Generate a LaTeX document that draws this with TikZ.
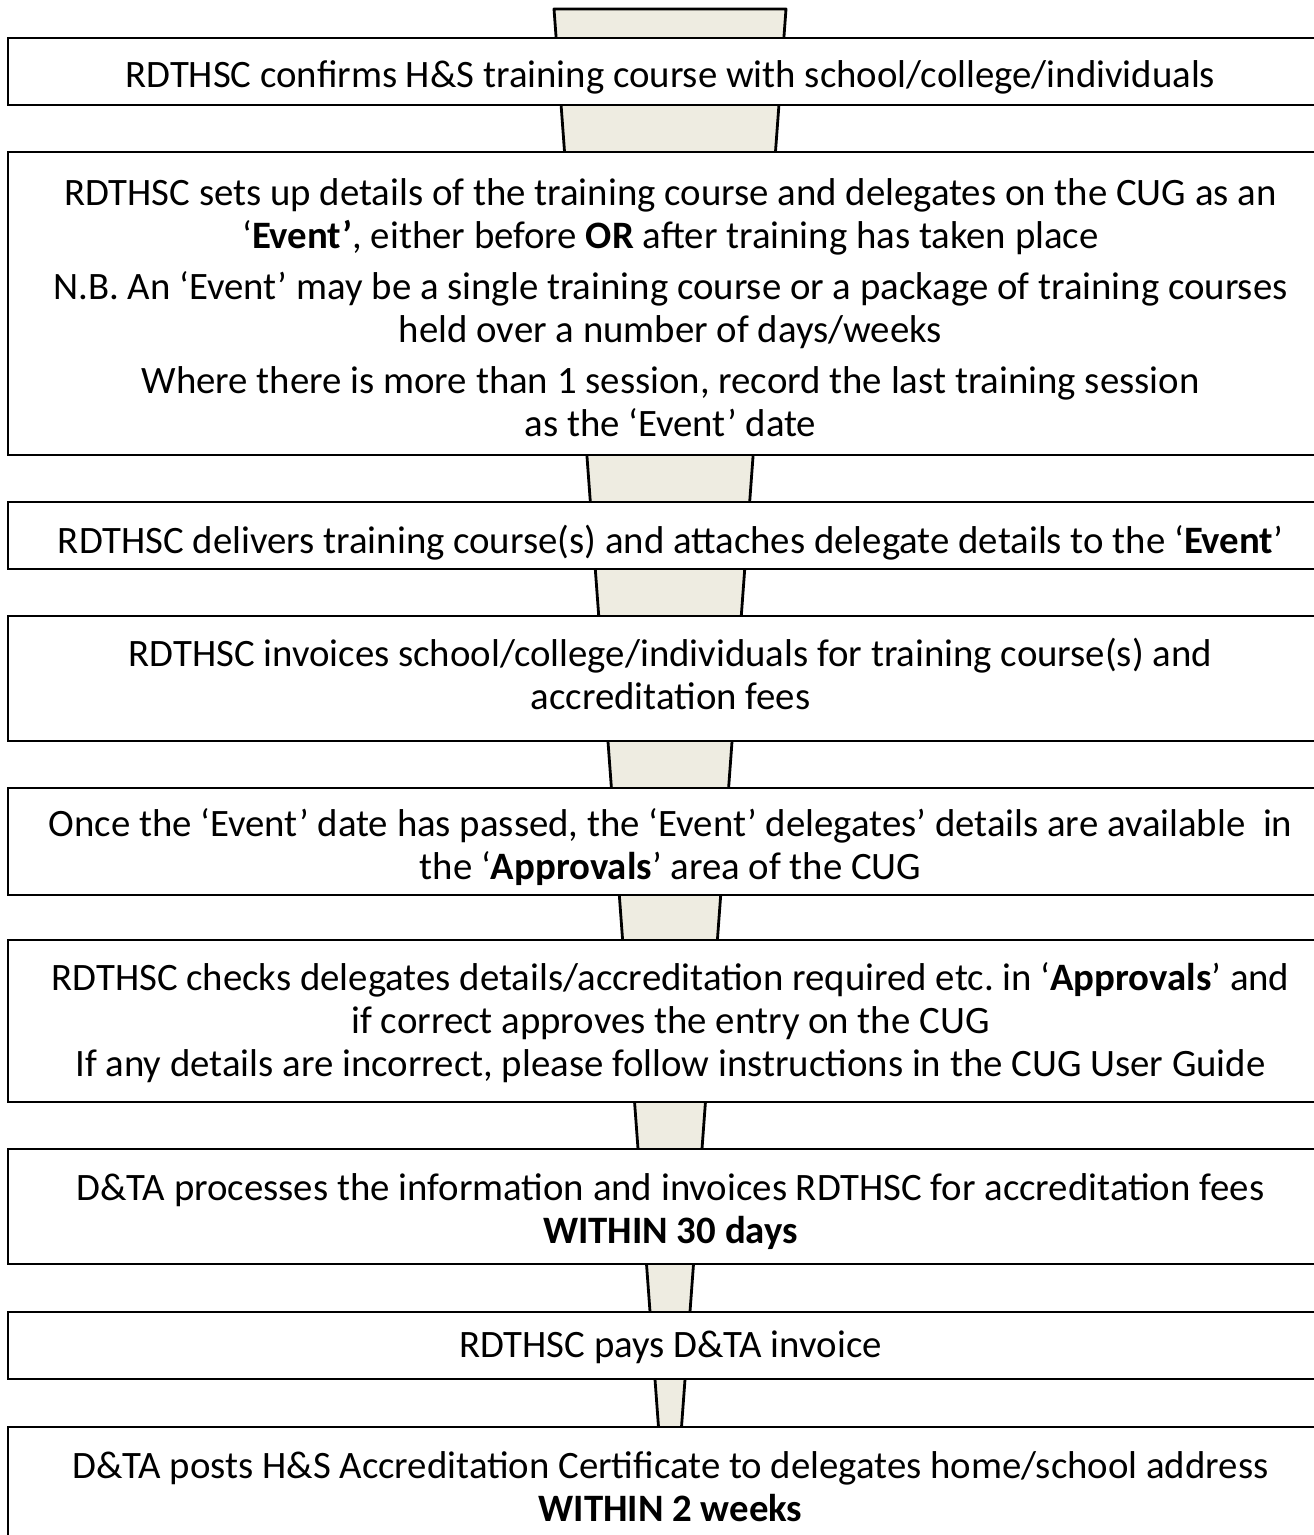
\documentclass[tikz,border=0pt]{standalone}
\usepackage{fontspec}
\setmainfont{Carlito}
\definecolor{funnelfill}{HTML}{EEECE1}
\frenchspacing
\begin{document}
\begin{tikzpicture}[x=0.5pt,y=-0.5pt,
  stepbox/.style={draw, line width=1.4pt, fill=white, minimum width=662.5pt, inner sep=0pt},
  steptext/.style={align=center, inner sep=0pt, font=\fontsize{19.4pt}{21.5pt}\selectfont}]
  \useasboundingbox (0,0) rectangle (1313,1535);

  % funnel behind the steps
  \draw[line width=1.4pt, fill=funnelfill, line join=round] (554,9) -- (786,9) -- (670,1583) -- cycle;

  \node[stepbox, minimum height=33.5pt] (confirm) at (670.5,71.5) {};
  \node[stepbox, minimum height=151.5pt] (setup) at (670.5,303.5) {};
  \node[stepbox, minimum height=33.5pt] (deliver) at (670.5,535.5) {};
  \node[stepbox, minimum height=62.5pt] (invoice) at (670.5,678.5) {};
  \node[stepbox, minimum height=53.5pt] (available) at (670.5,841.5) {};
  \node[stepbox, minimum height=81pt] (check) at (670.5,1021) {};
  \node[stepbox, minimum height=57.5pt] (process) at (670.5,1206.5) {};
  \node[stepbox, minimum height=33.5pt] (pay) at (670.5,1345.5) {};
  \node[stepbox, minimum height=66.5pt] (post) at (670.5,1493.5) {};

  \node[steptext] (confirm text) at (670.5,77) {RDTHSC confirms H\&S training course with school/college/individuals};
  \node[steptext] (setup text) at (670.5,308) {RDTHSC sets up details of the training course and delegates on the CUG as an\\
    ‘\textbf{Event’}, either before \textbf{OR} after training has taken place\\[4pt]
    N.B. An ‘Event’ may be a single training course or a package of training courses\\
    held over a number of days/weeks\\[4pt]
    Where there is more than 1 session, record the last training session\\
    as the ‘Event’ date};
  \node[steptext] (deliver text) at (670.5,543) {RDTHSC delivers training course(s) and attaches delegate details to the ‘\textbf{Event}’};
  \node[steptext] (invoice text) at (670.5,673.5) {RDTHSC invoices school/college/individuals for training course(s) and\\
    accreditation fees};
  \node[steptext] (available text) at (670.5,847) {Once the ‘Event’ date has passed, the ‘Event’ delegates’ details are available\ \ in\\
    the ‘\textbf{Approvals}’ area of the CUG};
  \node[steptext] (check text) at (670.5,1023) {RDTHSC checks delegates details/accreditation required etc. in ‘\textbf{Approvals}’ and\\
    if correct approves the entry on the CUG\\
    If any details are incorrect, please follow instructions in the CUG User Guide};
  \node[steptext] (process text) at (670.5,1211.5) {D\&TA processes the information and invoices RDTHSC for accreditation fees\\
    \textbf{WITHIN 30 days}};
  \node[steptext] (pay text) at (670.5,1347) {RDTHSC pays D\&TA invoice};
  \node[steptext] (post text) at (670.5,1486.5) {D\&TA posts H\&S Accreditation Certificate to delegates home/school address\\
    \textbf{WITHIN 2 weeks}};
\end{tikzpicture}
\end{document}
